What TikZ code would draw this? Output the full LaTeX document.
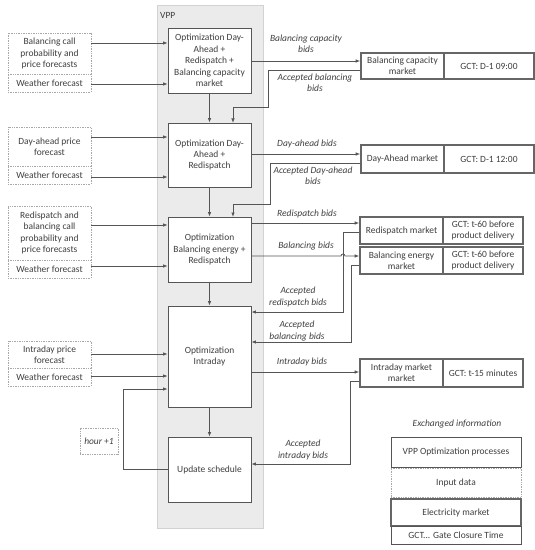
\documentclass[tikz,border=0pt]{standalone}
\usepackage{fontspec}
\setmainfont{Carlito}
\usetikzlibrary{arrows.meta}
\definecolor{txt}{HTML}{3F3F3F}
\definecolor{ln}{HTML}{555555}
\definecolor{vppbg}{HTML}{EBEBEB}
\definecolor{vppbd}{HTML}{D2D2D2}
\definecolor{dotc}{HTML}{A8A8A8}
\tikzset{
  x=1bp, y=-1bp,
  every node/.style={font=\fontsize{9.5}{11.5}\selectfont, text=txt, inner sep=0pt, align=center},
  optbox/.style={draw=ln, line width=0.8bp, fill=white, minimum width=83bp},
  inbox/.style={draw=dotc, densely dotted, line width=0.7bp, fill=white, minimum width=83bp},
  mktbox/.style={draw=ln!90, line width=1.7bp, fill=white},
  lbl/.style={font=\fontsize{9.5}{11.5}\selectfont\itshape},
  arr/.style={draw=ln, line width=0.8bp, -{Latex[length=4.5bp,width=3.5bp]}},
  plain/.style={draw=ln, line width=0.8bp}
}
\begin{document}
\begin{tikzpicture}
\useasboundingbox (0,0) rectangle (535,550);
% VPP background
\node[draw=vppbd, fill=vppbg, line width=0.7bp, minimum width=106bp, minimum height=523bp] (vpp) at (210,266.5) {};
\node[anchor=west] (vpplbl) at (160,15) {VPP};

% optimization boxes
\node[optbox, minimum height=65bp] (opt1) at (209.5,60.5) {Optimization Day-\\Ahead +\\Redispatch +\\Balancing capacity\\market};
\node[optbox, minimum height=64bp] (opt2) at (209.5,155) {Optimization Day-\\Ahead +\\Redispatch};
\node[optbox, minimum height=65bp] (opt3) at (209.5,249.5) {Optimization\\Balancing energy +\\Redispatch};
\node[optbox, minimum height=101bp] (opt4) at (209.5,356.5) {Optimization\\Intraday};
\node[optbox, minimum height=65bp] (upd) at (209.5,469.5) {Update schedule};

% inputs
\node[inbox, minimum height=41bp] (in1a) at (49.5,53.5) {Balancing call\\probability and\\price forecasts};
\node[inbox, minimum height=18bp] (in1b) at (49.5,83) {Weather forecast};
\node[inbox, minimum height=39bp] (in2a) at (49.5,146.5) {Day-ahead price\\forecast};
\node[inbox, minimum height=18bp] (in2b) at (49.5,175) {Weather forecast};
\node[inbox, minimum height=54bp] (in3a) at (49.5,233) {Redispatch and\\balancing call\\probability and\\price forecasts};
\node[inbox, minimum height=18bp] (in3b) at (49.5,269) {Weather forecast};
\node[inbox, minimum height=27bp] (in4a) at (49.5,354.5) {Intraday price\\forecast};
\node[inbox, minimum height=18bp] (in4b) at (49.5,377) {Weather forecast};
\node[inbox, minimum width=38bp, minimum height=26bp, font=\fontsize{9.5}{11.5}\selectfont\itshape] (hour) at (99,441) {hour +1};

% markets
\node[mktbox, minimum width=83bp, minimum height=26bp] (bcm) at (402.5,66) {Balancing capacity\\market};
\node[mktbox, minimum width=90bp, minimum height=26bp] (bcmg) at (489,66) {GCT: D-1 09:00};
\node[mktbox, minimum width=83bp, minimum height=28bp] (dam) at (402.5,159) {Day-Ahead market};
\node[mktbox, minimum width=90bp, minimum height=28bp] (damg) at (489,159) {GCT: D-1 12:00};
\node[mktbox, minimum width=83bp, minimum height=27bp] (rdm) at (401.5,230.5) {Redispatch market};
\node[mktbox, minimum width=80bp, minimum height=27bp] (rdmg) at (483,230.5) {GCT: t-60 before\\product delivery};
\node[mktbox, minimum width=83bp, minimum height=27bp] (bem) at (401.5,260.5) {Balancing energy\\market};
\node[mktbox, minimum width=80bp, minimum height=27bp] (bemg) at (483,260.5) {GCT: t-60 before\\product delivery};
\node[mktbox, minimum width=83bp, minimum height=28bp] (idm) at (401.5,373) {Intraday market\\market};
\node[mktbox, minimum width=80bp, minimum height=28bp] (idmg) at (483,373) {GCT: t-15 minutes};

% input arrows
\draw[arr] (in1a.east |- 0,43) -- (opt1.west |- 0,43);
\draw[arr] (in1b.east |- 0,84) -- (opt1.west |- 0,84);
\draw[arr] (in2a.east |- 0,137) -- (opt2.west |- 0,137);
\draw[arr] (in2b.east |- 0,177) -- (opt2.west |- 0,177);
\draw[arr] (in3a.east |- 0,225) -- (opt3.west |- 0,225);
\draw[arr] (in3b.east |- 0,266) -- (opt3.west |- 0,266);
\draw[arr] (in4a.east |- 0,354) -- (opt4.west |- 0,354);
\draw[arr] (in4b.east |- 0,376) -- (opt4.west |- 0,376);

% vertical flow
\draw[arr] (opt1.south) -- (opt2.north);
\draw[arr] (opt2.south) -- (opt3.north);
\draw[arr] (opt3.south) -- (opt4.north);
\draw[arr] (opt4.south) -- (upd.north);

% hour loop
\draw[arr] (upd.west |- 0,469) -- (123,469) -- (123,389) -- (opt4.west |- 0,389);

% bids
\draw[arr] (opt1.east |- 0,61) -- (bcm.west |- 0,61);
\draw[arr] (bcm.west |- 0,70) -- (268,70) -- (268,107) -- (233,107) -- (233,123);
\draw[arr] (opt2.east |- 0,154) -- (dam.west |- 0,154);
\draw[arr] (dam.west |- 0,163) -- (270,163) -- (270,204) -- (233,204) -- (233,217);
\draw[arr] (opt3.east |- 0,223) -- (rdm.west |- 0,223);
\draw[arr] (opt3.east |- 0,256) -- (341,256) arc[start angle=180, end angle=0, radius=2bp] -- (bem.west |- 0,256);
\draw[arr] (rdm.west |- 0,232) -- (343,232) -- (343,312) -- (opt4.east |- 0,312);
\draw[arr] (bem.west |- 0,265) -- (351,265) -- (351,342) -- (opt4.east |- 0,342);
\draw[arr] (opt4.east |- 0,372) -- (idm.west |- 0,372);
\draw[arr] (idm.west |- 0,381) -- (350,381) -- (350,464) -- (upd.east |- 0,464);

% labels
\node[lbl] (l1) at (306,44) {Balancing capacity\\bids};
\node[lbl] (l2) at (315,83) {Accepted balancing\\bids};
\node[lbl] (l3) at (307,144) {Day-ahead bids};
\node[lbl] (l4) at (313,176) {Accepted Day-ahead\\bids};
\node[lbl] (l5) at (307,214) {Redispatch bids};
\node[lbl] (l6) at (306,246) {Balancing bids};
\node[lbl] (l7) at (298,297) {Accepted\\redispatch bids};
\node[lbl] (l8) at (297,331) {Accepted\\balancing bids};
\node[lbl] (l9) at (302,362) {Intraday bids};
\node[lbl] (l10) at (303,450) {Accepted\\intraday bids};

% legend
\node[lbl] (leg) at (457,424) {Exchanged information};
\node[optbox, minimum width=130bp, minimum height=30bp] (lg1) at (456,452) {VPP Optimization processes};
\node[inbox, minimum width=130bp, minimum height=29bp] (lg2) at (456,482.5) {Input data};
\node[mktbox, minimum width=130bp, minimum height=27bp] (lg3) at (456,512.5) {Electricity market};
\node[optbox, minimum width=130bp, minimum height=18bp] (lg4) at (456,535) {GCT... Gate Closure Time};
\end{tikzpicture}
\end{document}
